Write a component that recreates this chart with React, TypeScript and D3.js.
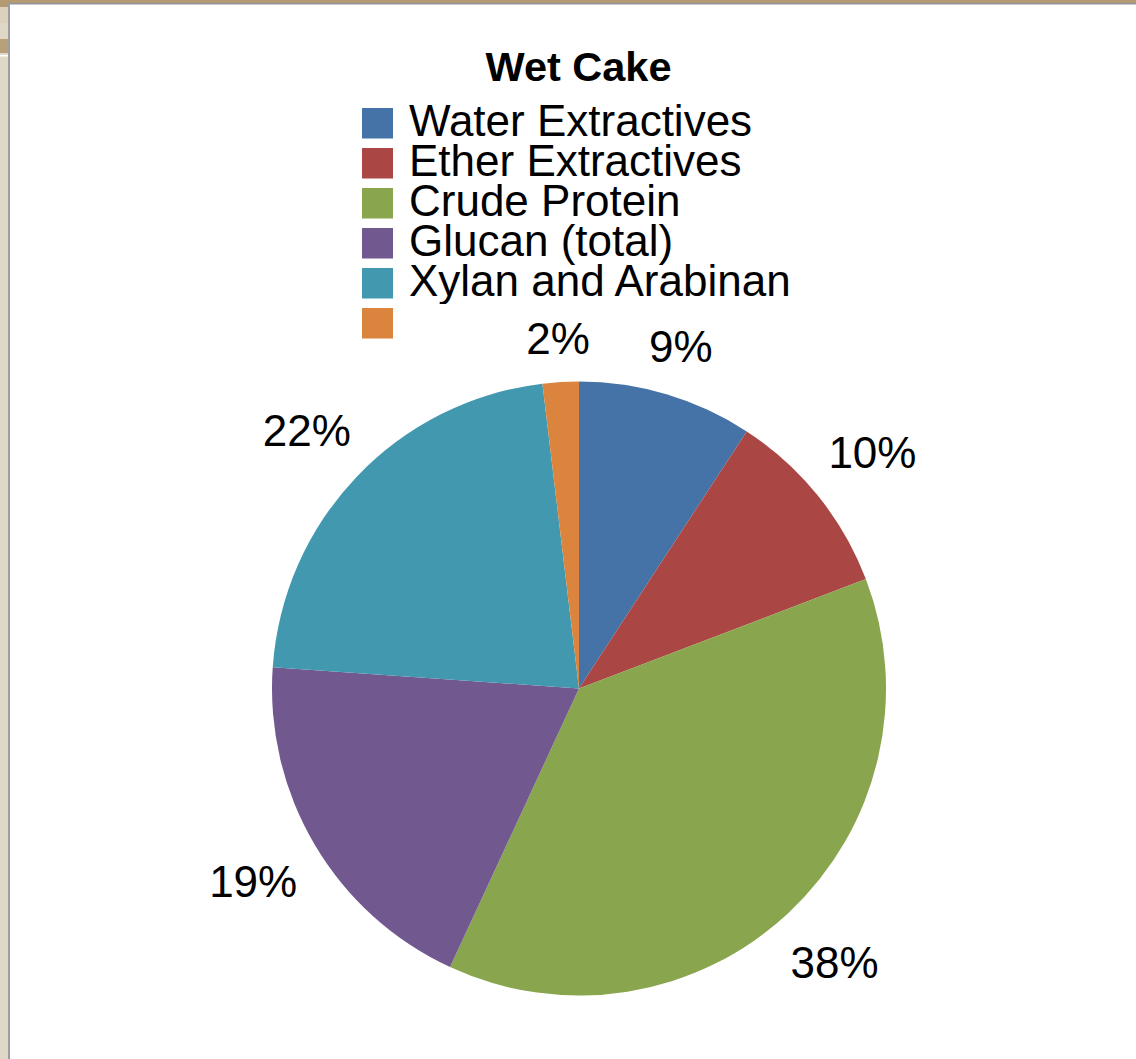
import React from "react";
import * as d3 from "d3";

const categories = [
  "Water Extractives",
  "Ether Extractives",
  "Crude Protein",
  "Glucan (total)",
  "Xylan and Arabinan",
  "Ash",
];
const values = [9.2, 10.0, 37.7, 19.2, 22.0, 1.9];
const colors = ["#4572A7", "#AA4643", "#89A54E", "#71588F", "#4198AF", "#DB843D"];
const title = "Wet Cake";

const W = 1136;
const H = 1059;
const FONT = "'Liberation Sans', Arial, Helvetica, sans-serif";

export default function App() {
  const cx = 579;
  const cy = 688.5;
  const R = 307;
  const total = d3.sum(values);
  const pie = d3.pie<number>().sort(null).value((d) => d)(values);
  const arc = d3.arc<d3.PieArcDatum<number>>().innerRadius(0).outerRadius(R);

  const labelFont = 44;
  const charW = (t: string) => {
    let w = 0;
    for (const c of t) w += c === "%" ? 0.889 : 0.556;
    return w * labelFont;
  };

  const labels = pie.map((p) => {
    const a = (p.startAngle + p.endAngle) / 2;
    const txt = `${Math.round((p.value / total) * 100)}%`;
    const hw = charW(txt) / 2;
    const hh = 17;
    const s = Math.sin(a);
    const c = Math.cos(a);
    const r = R + 25 + hw * Math.abs(s) + hh * Math.abs(c);
    return { x: cx + r * s, y: cy - r * c, txt };
  });

  const legendX = 362;
  const legendY0 = 108;
  const legendStep = 40;

  return (
    <svg
      width={W}
      height={H}
      style={{ position: "absolute", left: 0, top: 0, display: "block" }}
      xmlns="http://www.w3.org/2000/svg"
    >
      <defs>
        <clipPath id="legclip">
          <rect x={0} y={0} width={W} height={304} />
        </clipPath>
      </defs>
      <rect x={0} y={0} width={W} height={H} fill="#ffffff" />
      {/* window chrome */}
      <rect x={0} y={0} width={10} height={H} fill="#e0d8c7" />
      <rect x={0} y={7} width={8} height={16} fill="#dbd1bd" />
      <rect x={0} y={39} width={8} height={14} fill="#b8a078" />
      <rect x={0} y={55} width={8} height={1.5} fill="#ffffff" />
      <rect x={0} y={0} width={W} height={3} fill="#b39a72" />
      <rect x={0} y={0} width={8} height={7} fill="#b39a72" />
      <rect x={8} y={3} width={W - 8} height={1.5} fill="#8f959b" />
      <rect x={8} y={3} width={2} height={H - 3} fill="#9a9ea2" />

      <text
        x={578.5}
        y={81}
        textAnchor="middle"
        fontFamily={FONT}
        fontWeight="bold"
        fontSize={41.5}
        fill="#000"
      >
        {title}
      </text>

      <g>
        {categories.map((c, i) => (
          <g key={c}>
            <rect
              x={legendX}
              y={legendY0 + i * legendStep}
              width={31}
              height={30.5}
              fill={colors[i]}
            />
            <text
              x={409}
              y={legendY0 + 28 + i * legendStep}
              fontFamily={FONT}
              fontSize={44}
              fill="#000"
              clipPath="url(#legclip)"
            >
              {c}
            </text>
          </g>
        ))}
      </g>

      <g transform={`translate(${cx},${cy})`}>
        {pie.map((p, i) => (
          <path key={i} d={arc(p) || ""} fill={colors[i]} />
        ))}
      </g>

      {labels.map((l, i) => (
        <text
          key={i}
          x={l.x}
          y={l.y + 16}
          textAnchor="middle"
          fontFamily={FONT}
          fontSize={labelFont}
          fill="#000"
        >
          {l.txt}
        </text>
      ))}
    </svg>
  );
}
